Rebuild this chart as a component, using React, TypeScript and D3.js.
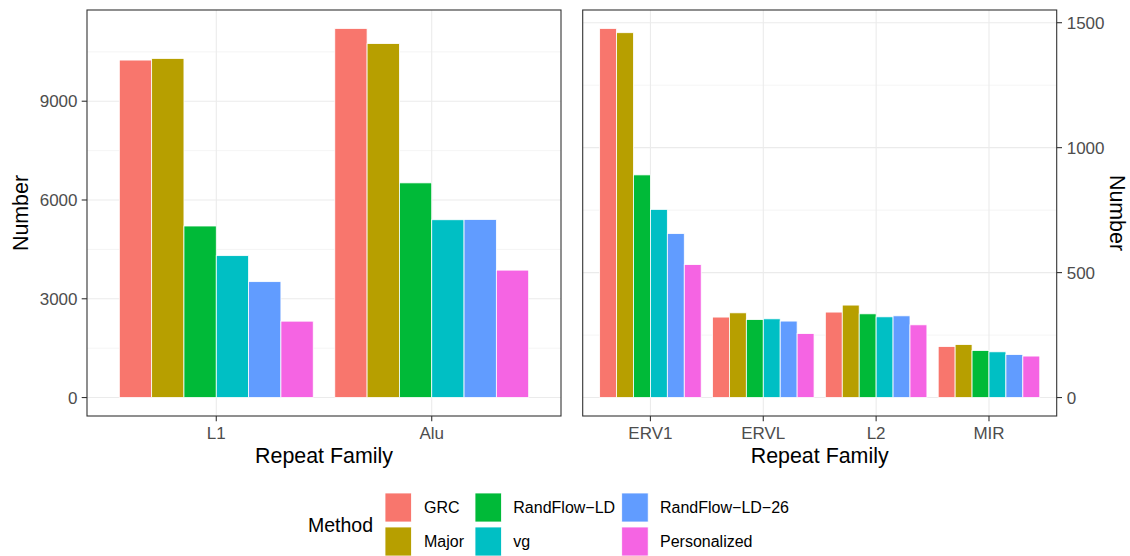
import React from "react";
import * as d3 from "d3";

// methods (fill legend), in plotting order
const methods = ["GRC", "Major", "RandFlow-LD", "vg", "RandFlow-LD-26", "Personalized"];
const methodLabels = ["GRC", "Major", "RandFlow\u2212LD", "vg", "RandFlow\u2212LD\u221226", "Personalized"];
const colors = ["#F8766D", "#B79F00", "#00BA38", "#00BFC4", "#619CFF", "#F564E3"];

// left panel: big families
const bigFamilies = ["L1", "Alu"];
const l1Values = [10250, 10300, 5210, 4310, 3520, 2320];
const aluValues = [11210, 10750, 6520, 5400, 5410, 3870];
const bigTicks = [0, 3000, 6000, 9000];

// right panel: small families
const smallFamilies = ["ERV1", "ERVL", "L2", "MIR"];
const erv1Values = [1477, 1460, 891, 753, 656, 532];
const ervlValues = [322, 339, 312, 315, 306, 256];
const l2Values = [342, 370, 335, 323, 327, 291];
const mirValues = [204, 212, 188, 183, 172, 166];
const smallTicks = [0, 500, 1000, 1500];

const FONT = "Liberation Sans, Arial, Helvetica, sans-serif";

type Row = { family: string; method: string; value: number };

function toRows(families: string[], series: number[][]): Row[] {
  const rows: Row[] = [];
  families.forEach((f, i) => {
    methods.forEach((m, j) => rows.push({ family: f, method: m, value: series[i][j] }));
  });
  return rows;
}

function Panel(props: {
  rows: Row[];
  families: string[];
  ticks: number[];
  left: number;
  right: number;
  top: number;
  bottom: number;
  side: "left" | "right";
}) {
  const { rows, families, ticks, left, right, top, bottom, side } = props;
  const maxV = d3.max(rows, (d) => d.value) as number;
  // ggplot-style 5% expansion
  const y = d3.scaleLinear().domain([-0.05 * maxV, 1.05 * maxV]).range([bottom, top]);
  const x = d3.scaleBand().domain(families).range([left, right]).paddingInner(0.1).paddingOuter(0.15);
  const xm = d3.scaleBand().domain(methods).range([0, x.bandwidth()]).padding(0);
  const step = ticks[1] - ticks[0];
  const minor = ticks.map((t) => t + step / 2).filter((t) => y(t) > top);

  return (
    <g>
      <rect x={left} y={top} width={right - left} height={bottom - top} fill="#fff" />
      {minor.map((t) => (
        <line key={"mn" + t} x1={left} x2={right} y1={y(t)} y2={y(t)} stroke="#EBEBEB" strokeWidth={0.55} />
      ))}
      {ticks.map((t) => (
        <line key={"mj" + t} x1={left} x2={right} y1={y(t)} y2={y(t)} stroke="#EBEBEB" strokeWidth={1.1} />
      ))}
      {families.map((f) => {
        const cx = (x(f) as number) + x.bandwidth() / 2;
        return <line key={"vx" + f} x1={cx} x2={cx} y1={top} y2={bottom} stroke="#EBEBEB" strokeWidth={1.1} />;
      })}
      {rows.map((d, i) => (
        <rect
          key={i}
          x={(x(d.family) as number) + (xm(d.method) as number)}
          y={y(d.value)}
          width={xm.bandwidth()}
          height={y(0) - y(d.value)}
          fill={colors[methods.indexOf(d.method)]}
          stroke="#fff"
          strokeWidth={0.8}
        />
      ))}
      <rect x={left} y={top} width={right - left} height={bottom - top} fill="none" stroke="#333333" strokeWidth={1.1} />
      {/* x axis */}
      {families.map((f) => {
        const cx = (x(f) as number) + x.bandwidth() / 2;
        return (
          <g key={"xt" + f}>
            <line x1={cx} x2={cx} y1={bottom} y2={bottom + 5.3} stroke="#333333" strokeWidth={1.1} />
            <text x={cx} y={439} textAnchor="middle" fontSize={17} fill="#4D4D4D" fontFamily={FONT}>
              {f}
            </text>
          </g>
        );
      })}
      <text x={(left + right) / 2} y={463} textAnchor="middle" fontSize={21.4} fill="#000" fontFamily={FONT}>
        Repeat Family
      </text>
      {/* y axis */}
      {ticks.map((t) => {
        const ty = y(t);
        return side === "left" ? (
          <g key={"yt" + t}>
            <line x1={left - 5.3} x2={left} y1={ty} y2={ty} stroke="#333333" strokeWidth={1.1} />
            <text x={left - 9.5} y={ty} dy="0.36em" textAnchor="end" fontSize={17} fill="#4D4D4D" fontFamily={FONT}>
              {t}
            </text>
          </g>
        ) : (
          <g key={"yt" + t}>
            <line x1={right} x2={right + 5.3} y1={ty} y2={ty} stroke="#333333" strokeWidth={1.1} />
            <text x={right + 10} y={ty} dy="0.36em" textAnchor="start" fontSize={17} fill="#4D4D4D" fontFamily={FONT}>
              {t}
            </text>
          </g>
        );
      })}
      {side === "left" ? (
        <text
          transform={`translate(28,${(top + bottom) / 2}) rotate(-90)`}
          textAnchor="middle"
          fontSize={21.4}
          fill="#000"
          fontFamily={FONT}
        >
          Number
        </text>
      ) : (
        <text
          transform={`translate(1110,${(top + bottom) / 2}) rotate(90)`}
          textAnchor="middle"
          fontSize={21.4}
          fill="#000"
          fontFamily={FONT}
        >
          Number
        </text>
      )}
    </g>
  );
}

function Legend() {
  const keyX = [385, 475, 621.7];
  const labelX = [424, 513.3, 660];
  const keyY = [493, 527];
  return (
    <g>
      <text x={308} y={525} dy="0.36em" fontSize={19.5} fill="#000" fontFamily={FONT}>
        Method
      </text>
      {methods.map((m, i) => {
        const col = Math.floor(i / 2);
        const row = i % 2;
        return (
          <g key={m}>
            <rect x={keyX[col]} y={keyY[row]} width={26.5} height={29} fill={colors[i]} stroke="#fff" strokeWidth={0.8} />
            <text
              x={labelX[col]}
              y={keyY[row] + 14.5}
              dy="0.36em"
              fontSize={16}
              fill="#000"
              fontFamily={FONT}
            >
              {methodLabels[i]}
            </text>
          </g>
        );
      })}
    </g>
  );
}

export default function App() {
  const bigRows = toRows(bigFamilies, [l1Values, aluValues]);
  const smallRows = toRows(smallFamilies, [erv1Values, ervlValues, l2Values, mirValues]);
  return (
    <svg
      width={1130}
      height={556}
      style={{ position: "absolute", left: 0, top: 0, background: "#fff" }}
    >
      <rect width={1130} height={556} fill="#fff" />
      <Panel rows={bigRows} families={bigFamilies} ticks={bigTicks} left={87} right={561} top={10} bottom={416} side="left" />
      <Panel
        rows={smallRows}
        families={smallFamilies}
        ticks={smallTicks}
        left={582.7}
        right={1056.7}
        top={10}
        bottom={416}
        side="right"
      />
      <Legend />
    </svg>
  );
}
